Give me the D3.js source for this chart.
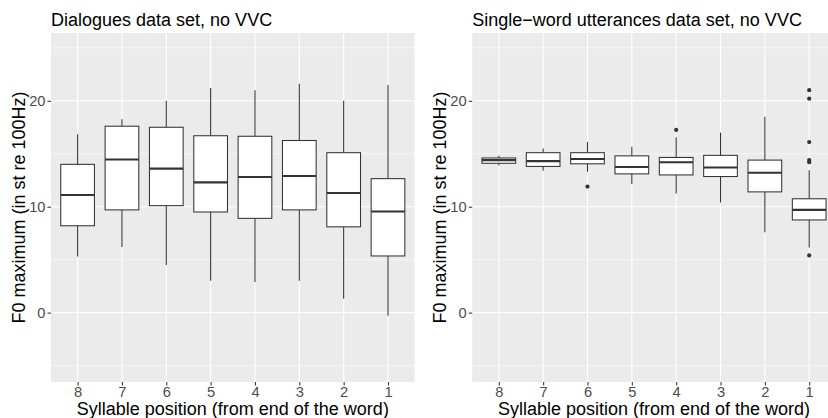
<!DOCTYPE html>
<html>
<head>
<meta charset="utf-8">
<script src="https://cdn.jsdelivr.net/npm/d3@7"></script>
<style>
  body { margin: 0; background: #fff; }
  svg { display: block; font-family: "Liberation Sans", Arial, sans-serif; }
</style>
</head>
<body>
<svg id="chart" width="828" height="418"></svg>
<script>
"use strict";

// Syllable positions, counted from the end of the word
const positions = ["8", "7", "6", "5", "4", "3", "2", "1"];

// Dialogues data set: whisker ends, hinges and medians (st re 100Hz)
const dlgLow  = [5.3, 6.2, 4.5, 3.0, 2.9, 3.0, 1.3, -0.3];
const dlgQ1   = [8.2, 9.7, 10.1, 9.5, 8.9, 9.7, 8.1, 5.35];
const dlgMed  = [11.1, 14.45, 13.6, 12.3, 12.8, 12.9, 11.3, 9.55];
const dlgQ3   = [14.0, 17.6, 17.5, 16.7, 16.65, 16.25, 15.1, 12.65];
const dlgHigh = [16.85, 18.25, 20.0, 21.2, 21.0, 21.6, 20.0, 21.5];
const dlgOut  = [];

// Single-word utterances data set
const swuLow  = [13.9, 13.4, 13.3, 12.15, 11.25, 10.4, 7.6, 6.15];
const swuQ1   = [14.1, 13.8, 14.05, 13.1, 13.0, 12.85, 11.4, 8.75];
const swuMed  = [14.4, 14.3, 14.5, 13.75, 14.2, 13.7, 13.2, 9.7];
const swuQ3   = [14.6, 15.1, 15.1, 14.8, 14.65, 14.85, 14.4, 10.75];
const swuHigh = [14.8, 15.5, 16.1, 15.65, 16.55, 17.0, 18.5, 13.45];
const swuOut  = [["6", 11.9], ["4", 17.25], ["1", 21.0], ["1", 20.2],
                 ["1", 16.1], ["1", 14.4], ["1", 14.2], ["1", 5.4]];

const yMajor = [0, 10, 20];
const yMinor = [-5, 5, 15, 25];
const yDomain = [-6.55, 26.4];

const svg = d3.select("#chart");

/**
 * Build box records from the parallel arrays.
 */
function boxes(low, q1, med, q3, high) {
    return positions.map((p, i) => ({
        pos: p, low: low[i], q1: q1[i], med: med[i], q3: q3[i], high: high[i]
    }));
}

/**
 * Draw one ggplot-like panel.
 */
function drawPanel(opts) {
    const x = d3.scalePoint()
        .domain(positions)
        .range([opts.left, opts.right])
        .padding(0.6);
    const y = d3.scaleLinear()
        .domain(yDomain)
        .range([opts.bottom, opts.top]);
    const step = x.step();
    const bw = step * 0.76;

    const g = svg.append("g");

    // panel background
    g.append("rect")
        .attr("x", opts.left).attr("y", opts.top)
        .attr("width", opts.right - opts.left)
        .attr("height", opts.bottom - opts.top)
        .attr("fill", "#EBEBEB");

    // grid
    g.selectAll("line.minor").data(yMinor).enter().append("line")
        .attr("x1", opts.left).attr("x2", opts.right)
        .attr("y1", d => y(d)).attr("y2", d => y(d))
        .attr("stroke", "#fff").attr("stroke-width", 0.55);
    g.selectAll("line.major").data(yMajor).enter().append("line")
        .attr("x1", opts.left).attr("x2", opts.right)
        .attr("y1", d => y(d)).attr("y2", d => y(d))
        .attr("stroke", "#fff").attr("stroke-width", 1.1);
    g.selectAll("line.vmajor").data(positions).enter().append("line")
        .attr("x1", d => x(d)).attr("x2", d => x(d))
        .attr("y1", opts.top).attr("y2", opts.bottom)
        .attr("stroke", "#fff").attr("stroke-width", 1.1);

    // boxes
    const bx = g.selectAll("g.box").data(opts.data).enter().append("g");
    bx.append("line")
        .attr("x1", d => x(d.pos)).attr("x2", d => x(d.pos))
        .attr("y1", d => y(d.q3)).attr("y2", d => y(d.high))
        .attr("stroke", "#333").attr("stroke-width", 1.05);
    bx.append("line")
        .attr("x1", d => x(d.pos)).attr("x2", d => x(d.pos))
        .attr("y1", d => y(d.q1)).attr("y2", d => y(d.low))
        .attr("stroke", "#333").attr("stroke-width", 1.05);
    bx.append("rect")
        .attr("x", d => x(d.pos) - bw / 2)
        .attr("y", d => y(d.q3))
        .attr("width", bw)
        .attr("height", d => y(d.q1) - y(d.q3))
        .attr("fill", "#fff")
        .attr("stroke", "#333").attr("stroke-width", 1.05);
    bx.append("line")
        .attr("x1", d => x(d.pos) - bw / 2).attr("x2", d => x(d.pos) + bw / 2)
        .attr("y1", d => y(d.med)).attr("y2", d => y(d.med))
        .attr("stroke", "#333").attr("stroke-width", 2.1);

    g.selectAll("circle.out").data(opts.outliers).enter().append("circle")
        .attr("cx", d => x(d[0]))
        .attr("cy", d => y(d[1]))
        .attr("r", 2.1)
        .attr("fill", "#333");

    // axes
    const yAxis = g.append("g")
        .attr("transform", `translate(${opts.left},0)`)
        .call(d3.axisLeft(y).tickValues(yMajor).tickSize(3.5).tickPadding(2));
    const xAxis = g.append("g")
        .attr("transform", `translate(0,${opts.bottom})`)
        .call(d3.axisBottom(x).tickSize(3.5).tickPadding(1.5));
    [yAxis, xAxis].forEach(a => {
        a.select(".domain").remove();
        a.selectAll(".tick line").attr("stroke", "#333").attr("stroke-width", 1.05);
        a.selectAll(".tick text")
            .attr("fill", "#4D4D4D")
            .style("font-size", "14.7px")
            .style("font-family", "'Liberation Sans', Arial, sans-serif");
    });

    // titles
    g.append("text")
        .attr("x", opts.left).attr("y", 25.8)
        .attr("font-size", 18)
        .attr("fill", "#000")
        .text(opts.title);
    g.append("text")
        .attr("x", (opts.left + opts.right) / 2).attr("y", 414.5)
        .attr("text-anchor", "middle")
        .attr("font-size", 18)
        .attr("fill", "#000")
        .text("Syllable position (from end of the word)");
    g.append("text")
        .attr("transform", `translate(${opts.yTitleX},${(opts.top + opts.bottom) / 2}) rotate(-90)`)
        .attr("text-anchor", "middle")
        .attr("font-size", 18)
        .attr("fill", "#000")
        .text("F0 maximum (in st re 100Hz)");
}

drawPanel({
    left: 51, right: 414.6, top: 33, bottom: 382, yTitleX: 24.5,
    title: "Dialogues data set, no VVC",
    data: boxes(dlgLow, dlgQ1, dlgMed, dlgQ3, dlgHigh),
    outliers: dlgOut
});
drawPanel({
    left: 472.2, right: 835.8, top: 33, bottom: 382, yTitleX: 445.5,
    title: "Single\u2212word utterances data set, no VVC",
    data: boxes(swuLow, swuQ1, swuMed, swuQ3, swuHigh),
    outliers: swuOut
});
</script>
</body>
</html>
